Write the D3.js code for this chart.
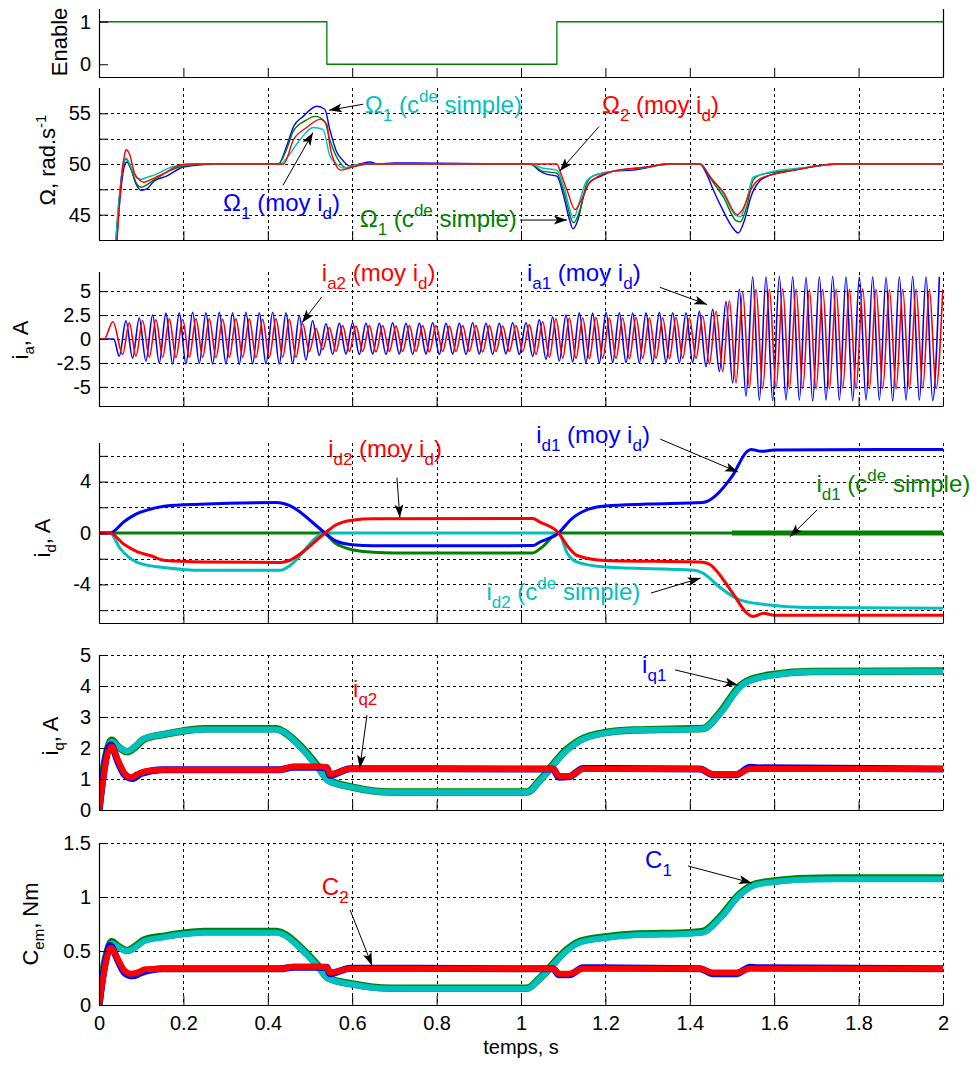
<!DOCTYPE html>
<html><head><meta charset="utf-8">
<script src="https://cdn.jsdelivr.net/npm/d3@7"></script>
<style>
body{margin:0;background:#fff}
svg{display:block}
text{font-family:"Liberation Sans",Arial,Helvetica,sans-serif}
</style>
</head><body>
<svg id="c" width="979" height="1065"></svg>
<script>
// ================= DATA =================
const xTicks = [0,0.2,0.4,0.6,0.8,1,1.2,1.4,1.6,1.8,2];
const xTickLabels = ['0','0.2','0.4','0.6','0.8','1','1.2','1.4','1.6','1.8','2'];

const enableTicks = [0,1], enableTickLabels = ['0','1'];
const omegaTicks = [45,47.5,50,52.5,55], omegaTickLabels = ['45','','50','','55'];
const iaTicks = [-5,-2.5,0,2.5,5], iaTickLabels = ['-5','-2.5','0','2.5','5'];
const idTicks = [-6,-4,-2,0,2,4,6], idTickLabels = ['','-4','','0','','4',''];
const iqTicks = [0,1,2,3,4,5], iqTickLabels = ['0','1','2','3','4','5'];
const cemTicks = [0,0.5,1,1.5], cemTickLabels = ['0','0.5','1','1.5'];

// Enable (step)
const enableT = [0,0.54,1.085,2];
const enableV = [1,0,1,1];

// Speed Omega [t, rad/s]
const omega1Moy = [[0,0],[0.02,22],[0.042,42.5],[0.052,47.5],[0.06,49.8],[0.066,50.2],[0.075,49.6],[0.088,48.0],[0.1,47.4],[0.115,47.6],[0.13,48.3],[0.16,48.8],[0.2,49.7],[0.25,49.95],[0.3,50],[0.425,50],[0.445,51.8],[0.461,53.7],[0.484,54.7],[0.516,55.7],[0.535,55.4],[0.547,53.4],[0.563,51.2],[0.579,50.3],[0.594,49.8],[0.618,50.0],[0.642,50.2],[0.66,50.0],[0.7,50.1],[1.022,50],[1.045,49.3],[1.06,49.0],[1.085,48.8],[1.1,47.0],[1.115,44.5],[1.123,43.6],[1.135,44.5],[1.148,46.8],[1.165,48.3],[1.19,48.8],[1.22,49.3],[1.266,49.4],[1.305,49.7],[1.34,50],[1.424,50],[1.44,49.0],[1.455,47.5],[1.48,45.3],[1.5,43.8],[1.515,43.2],[1.53,44.5],[1.545,46.8],[1.565,48.3],[1.59,48.9],[1.62,49.2],[1.66,49.5],[1.7,49.8],[1.75,50],[2,50]];
const omega1Simple = [[0,0],[0.02,24],[0.04,42.5],[0.05,47.5],[0.058,50.0],[0.064,50.5],[0.075,49.6],[0.09,48.0],[0.1,47.7],[0.115,48.0],[0.137,48.6],[0.165,49.3],[0.2,49.8],[0.25,50],[0.425,50],[0.445,51.5],[0.461,53.3],[0.49,54.3],[0.512,54.7],[0.535,54.2],[0.547,52.4],[0.57,50.2],[0.586,49.6],[0.61,49.8],[0.64,50],[1.022,50],[1.05,49.3],[1.085,49.1],[1.1,47.5],[1.125,44.2],[1.14,45.5],[1.155,48.0],[1.17,48.8],[1.22,49.3],[1.3,49.7],[1.35,50],[1.424,50],[1.45,48.5],[1.48,46.7],[1.51,44.4],[1.52,44.3],[1.535,45.8],[1.55,48.4],[1.565,48.9],[1.6,49.2],[1.66,49.5],[1.7,49.8],[1.75,50],[2,50]];
const omega2Simple = [[0,0],[0.02,24],[0.04,42.5],[0.05,47.5],[0.058,50.2],[0.064,50.6],[0.075,49.8],[0.09,48.6],[0.1,48.5],[0.115,48.7],[0.137,49.0],[0.165,49.6],[0.2,49.9],[0.25,50],[0.43,50],[0.445,50.6],[0.476,52.4],[0.508,53.6],[0.531,53.4],[0.547,50.8],[0.563,50.0],[0.579,49.6],[0.61,49.9],[0.64,50],[1.022,50],[1.05,49.6],[1.085,49.4],[1.1,48.0],[1.125,44.7],[1.14,46.5],[1.155,48.3],[1.175,48.9],[1.22,49.3],[1.3,49.7],[1.35,50],[1.424,50],[1.45,48.7],[1.48,47.0],[1.51,44.9],[1.52,44.8],[1.535,46.5],[1.55,48.7],[1.565,48.9],[1.6,49.3],[1.66,49.6],[1.7,49.8],[1.75,50],[2,50]];
const omega2Moy = [[0,0],[0.02,23],[0.043,42.5],[0.053,48.5],[0.06,50.8],[0.064,51.4],[0.072,51.0],[0.085,49.0],[0.1,48.3],[0.104,48.2],[0.12,48.4],[0.14,48.8],[0.16,49.2],[0.18,49.7],[0.21,50],[0.437,50],[0.461,52.4],[0.492,53.6],[0.524,54.4],[0.54,53.9],[0.547,51.8],[0.56,50.0],[0.573,49.4],[0.6,49.7],[0.63,50],[1.085,50],[1.095,49.0],[1.11,47.3],[1.128,45.5],[1.14,46.2],[1.16,48.0],[1.18,48.7],[1.22,49.3],[1.3,49.7],[1.35,50],[1.424,50],[1.45,48.6],[1.48,47.2],[1.512,45.0],[1.525,45.5],[1.545,47.5],[1.565,48.5],[1.6,49.0],[1.65,49.4],[1.7,49.8],[1.75,50],[2,50]];

// Phase current i_a: successive extremes (A), spaced by one half period
const iaHalfPeriod = 0.0158;
const iaBlueStart = 0.048, iaRedStart = 0.056;
const iaBlueLead = [[0,0],[0.035,0]];
const iaRedLead = [[0,0],[0.012,0],[0.033,1.8]];
const iaBlueExt = [-1.8,1.9,-2.0,2.2,-2.3,2.5,-2.5,2.7,-2.6,2.75,
 -2.6,2.8,-2.55,2.75,-2.6,2.8,-2.6,2.75,-2.65,2.8,-2.6,2.75,-2.6,2.8,-2.6,2.75,-2.55,
 2.4,-2.2,1.9,-1.7,1.6,
 -1.6,1.65,-1.55,1.7,-1.6,1.65,-1.55,1.65,-1.6,1.7,-1.55,1.65,-1.6,1.65,-1.55,1.7,-1.6,1.65,-1.55,1.65,-1.6,1.7,-1.55,1.65,-1.6,1.65,-1.55,1.7,-1.6,
 1.7,-1.8,2.0,-2.1,2.3,-2.3,2.5,-2.4,
 2.75,-2.45,2.7,-2.5,2.8,-2.45,2.75,-2.45,2.7,-2.5,2.75,-2.45,2.8,-2.45,2.75,-2.5,2.75,-2.45,
 2.9,-2.9,3.1,-3.4,3.9,-4.6,5.2,-6.0,6.5,
 -6.4,6.5,-6.45,6.55,-6.4,6.5,-6.4,6.45,-6.5,6.5,-6.4,6.55,-6.4,6.5,-6.45,6.5,-6.4,6.5,-6.4,6.45,-6.5,6.5,-6.4,6.55,-6.4,6.5,-6.45,6.5];
const iaRedExt = [-1.6,1.7,-1.8,1.9,-1.9,2.0,
 -1.9,2.1,-1.95,2.05,-1.9,2.1,-1.9,2.1,-1.95,2.05,-1.9,2.1,-1.9,2.1,-1.95,2.05,-1.9,2.1,-1.9,2.05,-1.9,
 1.6,-1.3,1.1,-1.1,1.2,
 -1.3,1.4,-1.3,1.35,-1.3,1.4,-1.35,1.4,-1.3,1.35,-1.3,1.4,-1.3,1.4,-1.35,1.4,-1.3,1.35,-1.3,1.4,-1.3,1.4,-1.35,1.4,-1.3,1.35,-1.3,1.4,-1.3,
 1.5,-1.6,1.8,-1.9,2.1,-2.0,2.2,
 -2.0,2.2,-2.05,2.25,-2.0,2.2,-2.0,2.2,-2.05,2.25,-2.0,2.2,-2.0,2.2,-2.05,2.25,-2.0,2.2,-2.0,
 2.4,-2.6,2.9,-3.4,4.0,-4.6,4.9,-5.1,5.2,
 -5.2,5.2,-5.15,5.25,-5.2,5.2,-5.2,5.15,-5.25,5.2,-5.2,5.2,-5.15,5.2,-5.2,5.25,-5.2,5.2,-5.2,5.15,-5.25,5.2,-5.2,5.2,-5.15,5.2,-5.2,5.2];

// i_d [t, A]
const id1Moy = [[0,0],[0.026,0],[0.06,0.9],[0.09,1.5],[0.121,1.85],[0.158,2.1],[0.24,2.24],[0.42,2.37],[0.437,2.3],[0.536,0],[0.56,-0.6],[0.6,-0.92],[0.65,-1.0],[1.028,-0.98],[1.045,-0.7],[1.089,0],[1.12,1.1],[1.16,1.85],[1.2,2.1],[1.3,2.25],[1.43,2.37],[1.44,2.45],[1.5,4.4],[1.536,6.35],[1.545,6.5],[1.57,6.35],[1.6,6.45],[2,6.5]];
const id2Moy = [[0,0],[0.026,0],[0.06,-0.9],[0.09,-1.45],[0.121,-1.75],[0.158,-2.14],[0.25,-2.25],[0.43,-2.3],[0.445,-2.2],[0.536,0],[0.56,0.6],[0.6,1.0],[0.65,1.1],[1.028,1.13],[1.045,0.85],[1.089,0],[1.11,-1.0],[1.133,-1.75],[1.2,-2.14],[1.43,-2.27],[1.445,-2.4],[1.5,-4.6],[1.536,-6.25],[1.55,-6.5],[1.575,-6.25],[1.6,-6.4],[2,-6.4]];
const id2Simple = [[0,0],[0.026,0],[0.05,-1.2],[0.089,-2.27],[0.113,-2.5],[0.158,-2.7],[0.24,-2.9],[0.43,-2.9],[0.445,-2.7],[0.537,0],[1.089,0],[1.11,-1.6],[1.133,-2.27],[1.2,-2.65],[1.41,-2.9],[1.43,-3.1],[1.474,-4.3],[1.518,-5.2],[1.588,-5.6],[1.676,-5.8],[2,-5.85]];
const id1Simple = [[0,0],[0.53,0],[0.56,-0.8],[0.6,-1.3],[0.65,-1.5],[0.7,-1.55],[1.028,-1.55],[1.05,-1.1],[1.089,0],[2,0]];
const id1SimpleRipple = [[1.5,0],[2,0]];

// i_q [t, A]
const iq1Simple = [[0,0],[0.01,1.25],[0.02,1.95],[0.03,2.25],[0.045,2.05],[0.067,1.88],[0.085,2.02],[0.106,2.28],[0.158,2.45],[0.2,2.55],[0.25,2.62],[0.42,2.62],[0.44,2.5],[0.476,2.08],[0.52,1.38],[0.543,0.97],[0.6,0.74],[0.69,0.58],[1.014,0.58],[1.045,0.97],[1.108,1.95],[1.14,2.26],[1.2,2.5],[1.266,2.58],[1.4,2.62],[1.431,2.63],[1.471,3.13],[1.519,4.0],[1.535,4.15],[1.598,4.37],[1.69,4.47],[2,4.48]];
const iq1Moy = [[0,0],[0.01,1.2],[0.02,1.9],[0.03,2.2],[0.045,2.05],[0.067,1.9],[0.085,2.05],[0.106,2.3],[0.158,2.45],[0.2,2.55],[0.25,2.6],[0.42,2.6],[0.44,2.5],[0.476,2.05],[0.52,1.35],[0.543,0.95],[0.6,0.73],[0.69,0.57],[1.014,0.57],[1.045,0.95],[1.108,1.92],[1.14,2.24],[1.2,2.48],[1.266,2.57],[1.4,2.6],[1.431,2.62],[1.471,3.1],[1.519,3.97],[1.535,4.13],[1.598,4.35],[1.69,4.46],[2,4.47]];
const iq2Simple = [[0,0],[0.01,1.1],[0.02,1.9],[0.028,2.1],[0.045,1.55],[0.06,1.15],[0.08,1.02],[0.1,1.18],[0.15,1.3],[0.43,1.3],[0.46,1.38],[0.52,1.38],[0.54,1.36],[0.547,1.12],[0.595,1.33],[1.076,1.32],[1.09,1.06],[1.115,1.08],[1.147,1.34],[1.424,1.32],[1.455,1.14],[1.51,1.14],[1.543,1.38],[1.56,1.36],[2,1.32]];
const iq2Moy = [[0,0],[0.01,1.0],[0.02,1.8],[0.03,2.05],[0.045,1.6],[0.06,1.2],[0.075,1.05],[0.09,1.15],[0.11,1.25],[0.15,1.3],[0.43,1.3],[0.46,1.4],[0.52,1.4],[0.54,1.38],[0.547,1.16],[0.595,1.32],[1.076,1.32],[1.09,1.1],[1.115,1.1],[1.147,1.32],[1.424,1.32],[1.455,1.16],[1.51,1.16],[1.543,1.32],[2,1.32]];

// C_em [t, Nm]
const cem1Simple = [[0,0],[0.01,0.32],[0.02,0.5],[0.03,0.585],[0.045,0.545],[0.067,0.505],[0.085,0.54],[0.106,0.6],[0.158,0.64],[0.2,0.665],[0.25,0.68],[0.42,0.68],[0.44,0.655],[0.476,0.54],[0.52,0.36],[0.543,0.25],[0.6,0.195],[0.69,0.155],[1.014,0.155],[1.045,0.25],[1.108,0.51],[1.14,0.59],[1.2,0.63],[1.266,0.655],[1.4,0.67],[1.431,0.68],[1.471,0.81],[1.519,1.03],[1.555,1.12],[1.605,1.15],[1.66,1.17],[1.75,1.175],[2,1.175]];
const cem1Moy = [[0,0],[0.01,0.31],[0.02,0.49],[0.03,0.57],[0.045,0.535],[0.067,0.5],[0.085,0.53],[0.106,0.59],[0.158,0.63],[0.2,0.655],[0.25,0.67],[0.42,0.67],[0.44,0.645],[0.476,0.53],[0.52,0.35],[0.543,0.245],[0.6,0.19],[0.69,0.15],[1.014,0.15],[1.045,0.245],[1.108,0.5],[1.14,0.58],[1.2,0.62],[1.266,0.645],[1.4,0.66],[1.431,0.67],[1.471,0.8],[1.519,1.02],[1.555,1.11],[1.605,1.14],[1.66,1.16],[1.75,1.165],[2,1.165]];
const cem2Simple = [[0,0],[0.01,0.28],[0.02,0.48],[0.026,0.55],[0.045,0.41],[0.06,0.3],[0.08,0.27],[0.1,0.3],[0.15,0.335],[0.43,0.335],[0.46,0.35],[0.52,0.35],[0.54,0.35],[0.547,0.29],[0.595,0.34],[1.076,0.335],[1.09,0.28],[1.115,0.28],[1.147,0.345],[1.424,0.335],[1.455,0.29],[1.51,0.29],[1.543,0.35],[1.56,0.345],[2,0.335]];
const cem2Moy = [[0,0],[0.01,0.26],[0.02,0.46],[0.028,0.53],[0.045,0.42],[0.06,0.32],[0.075,0.29],[0.09,0.3],[0.11,0.33],[0.15,0.335],[0.43,0.335],[0.46,0.355],[0.52,0.355],[0.54,0.35],[0.547,0.3],[0.595,0.335],[1.076,0.335],[1.09,0.29],[1.115,0.29],[1.147,0.335],[1.424,0.335],[1.455,0.3],[1.51,0.3],[1.543,0.335],[2,0.335]];

// ================= STYLE / LAYOUT =================
const COL = {blue:'#0000ff', red:'#ff0000', green:'#008000', cyan:'#00bfbf'};
const X0 = 99, X1 = 943;
const FS_TICK = 20, FS_LAB = 22, FS_ANN = 24, FS_SUB = 17;

const panels = [
  {id:'en',  top:9,   bottom:77,   domain:[-0.3,1.3], ticks:enableTicks, labels:enableTickLabels, grid:false, rightLine:true,
   ylabel:{x:67,y:42,parts:[['Enable','']]}},
  {id:'om',  top:88,  bottom:240,  domain:[42.5,57.5], ticks:omegaTicks, labels:omegaTickLabels, grid:true,
   ylabel:{x:55,y:160,parts:[['\u03A9, rad.s',''],['-1','sup']]}},
  {id:'ia',  top:272, bottom:406,  domain:[-7,7], ticks:iaTicks, labels:iaTickLabels, grid:true,
   ylabel:{x:28,y:340,parts:[['i',''],['a','sub'],[', A','']]}},
  {id:'id',  top:443, bottom:623,  domain:[-7,7], ticks:idTicks, labels:idTickLabels, grid:true,
   ylabel:{x:50,y:538,parts:[['i',''],['d','sub'],[', A','']]}},
  {id:'iq',  top:655, bottom:810,  domain:[0,5], ticks:iqTicks, labels:iqTickLabels, grid:true,
   ylabel:{x:58,y:736,parts:[['i',''],['q','sub'],[', A','']]}},
  {id:'cem', top:843, bottom:1005, domain:[0,1.5], ticks:cemTicks, labels:cemTickLabels, grid:true, xlabels:true,
   ylabel:{x:38,y:924,parts:[['C',''],['em','sub'],[', Nm','']]}}
];

const annotations = [
  {p:'om', c:'cyan', at:[0.630,55.0], parts:[['\u03A9',''],['1','sub'],[' (c',''],['de','sup'],[' simple)','']], arrow:[[0.626,55.9],[0.545,55.3]]},
  {p:'om', c:'red', at:[1.192,55.0], parts:[['\u03A9',''],['2','sub'],[' (moy i',''],['d','sub'],[')','']], arrow:[[1.185,53.7],[1.092,49.3]]},
  {p:'om', c:'blue', at:[0.294,45.4], parts:[['\u03A9',''],['1','sub'],[' (moy i',''],['d','sub'],[')','']], arrow:[[0.436,47.9],[0.507,53.1]]},
  {p:'om', c:'green', at:[0.618,43.8], parts:[['\u03A9',''],['1','sub'],[' (c',''],['de','sup'],[' simple)','']], arrow:[[0.998,44.47],[1.109,44.47]]},
  {p:'ia', c:'red', at:[0.528,6.1], parts:[['i',''],['a2','sub'],[' (moy i',''],['d','sub'],[')','']], arrow:[[0.528,4.4],[0.481,1.7]]},
  {p:'ia', c:'blue', at:[1.014,6.1], parts:[['i',''],['a1','sub'],[' (moy i',''],['d','sub'],[')','']], arrow:[[1.329,5.4],[1.441,3.6]]},
  {p:'id', c:'red', at:[0.543,5.9], parts:[['i',''],['d2','sub'],[' (moy i',''],['d','sub'],[')','']], arrow:[[0.706,4.3],[0.713,1.2]]},
  {p:'id', c:'blue', at:[1.036,7.0], parts:[['i',''],['d1','sub'],[' (moy i',''],['d','sub'],[')','']], arrow:[[1.330,7.3],[1.514,4.74]]},
  {p:'id', c:'green', at:[1.70,3.2], parts:[['i',''],['d1','sub'],[' (c',''],['de','sup'],[' simple)','']], arrow:[[1.702,1.8],[1.637,-0.3]]},
  {p:'id', c:'cyan', at:[0.918,-5.2], parts:[['i',''],['d2','sub'],[' (c',''],['de','sup'],[' simple)','']], arrow:[[1.308,-4.67],[1.426,-3.5]]},
  {p:'iq', c:'red', at:[0.602,3.65], parts:[['i',''],['q2','sub']], arrow:[[0.635,3.06],[0.618,1.35]]},
  {p:'iq', c:'blue', at:[1.287,4.42], parts:[['i',''],['q1','sub']], arrow:[[1.365,4.52],[1.514,4.03]]},
  {p:'cem', c:'blue', at:[1.294,1.27], parts:[['C',''],['1','sub']], arrow:[[1.396,1.287],[1.547,1.13]]},
  {p:'cem', c:'red', at:[0.528,1.02], parts:[['C',''],['2','sub']], arrow:[[0.595,0.88],[0.647,0.365]]}
];

// ================= DRAW =================
const svg = d3.select('#c');
const defs = svg.append('defs');
defs.append('marker').attr('id','arr').attr('markerUnits','userSpaceOnUse')
  .attr('markerWidth',14).attr('markerHeight',10).attr('refX',13).attr('refY',4.5).attr('orient','auto')
  .append('path').attr('d','M0,0 L13,4.5 L0,9 L3,4.5 z').attr('fill','#000');

const x = d3.scaleLinear().domain([0,2]).range([X0,X1]);
const P = {};

function rich(sel, parts, fs, sfs, subDy, supDy) {
  let off = 0;
  parts.forEach(([s,k]) => {
    const t = k==='sub' ? subDy : k==='sup' ? supDy : 0;
    sel.append('tspan').attr('dy', t-off).attr('font-size', k ? sfs : fs).text(s);
    off = t;
  });
}

panels.forEach(p => {
  p.y = d3.scaleLinear().domain(p.domain).range([p.bottom, p.top]);
  const g = svg.append('g');
  p.g = g;
  P[p.id] = p;
  defs.append('clipPath').attr('id','clip-'+p.id).append('rect')
    .attr('x',X0).attr('y',p.top).attr('width',X1-X0).attr('height',p.bottom-p.top);

  if (p.grid) {
    const gg = g.append('g').attr('stroke','#000').attr('stroke-width',1).attr('stroke-dasharray','3,3').attr('shape-rendering','crispEdges');
    xTicks.filter(t => t>0).forEach(t => {
      gg.append('line').attr('x1',Math.round(x(t))+0.5).attr('x2',Math.round(x(t))+0.5).attr('y1',p.top).attr('y2',p.bottom);
    });
    p.ticks.filter(v => v>p.domain[0]).forEach(v => {
      gg.append('line').attr('x1',X0).attr('x2',X1).attr('y1',Math.round(p.y(v))+0.5).attr('y2',Math.round(p.y(v))+0.5);
    });
  }
  p.lines = g.append('g').attr('clip-path','url(#clip-'+p.id+')');

  // axes
  const ax = g.append('g');
  const bottomAxis = d3.axisBottom(x).tickValues(xTicks).tickSizeInner(-9).tickSizeOuter(0).tickPadding(11)
     .tickFormat((d,i) => p.xlabels ? xTickLabels[i] : '');
  const ab = ax.append('g').attr('transform',`translate(0,${p.bottom})`).call(bottomAxis);
  ab.select('.domain').remove();
  ab.selectAll('text').attr('font-size',FS_TICK).attr('fill','#000').attr('font-family','"Liberation Sans",Arial,sans-serif');
  const leftAxis = d3.axisLeft(p.y).tickValues(p.ticks).tickSizeInner(-9).tickSizeOuter(0).tickPadding(8)
     .tickFormat((d,i) => p.labels[i]);
  const al = ax.append('g').attr('transform',`translate(${X0},0)`).call(leftAxis);
  al.select('.domain').remove();
  al.selectAll('text').attr('font-size',FS_TICK).attr('fill','#000').attr('font-family','"Liberation Sans",Arial,sans-serif');
  ax.selectAll('.tick line').attr('stroke','#000');
  // spines
  ax.append('line').attr('x1',X0+0.5).attr('x2',X0+0.5).attr('y1',p.top).attr('y2',p.bottom+0.5).attr('stroke','#000').attr('stroke-width',1.2);
  ax.append('line').attr('x1',X0).attr('x2',X1+0.5).attr('y1',p.bottom+0.5).attr('y2',p.bottom+0.5).attr('stroke','#000').attr('stroke-width',1.2);
  if (p.rightLine) ax.append('line').attr('x1',X1+0.5).attr('x2',X1+0.5).attr('y1',p.top).attr('y2',p.bottom+0.5).attr('stroke','#000').attr('stroke-width',1.2);

  // y label
  const yl = svg.append('text').attr('transform',`translate(${p.ylabel.x},${p.ylabel.y}) rotate(-90)`)
     .attr('text-anchor','middle').attr('fill','#000');
  rich(yl, p.ylabel.parts, FS_LAB, 15, 6, -9);
});

function draw(pid, pts, color, width, curve) {
  const p = P[pid];
  const line = d3.line().x(d => x(d[0])).y(d => p.y(d[1])).curve(curve || d3.curveMonotoneX);
  p.lines.append('path').attr('d', line(pts)).attr('fill','none').attr('stroke',color)
    .attr('stroke-width',width).attr('stroke-linejoin','round').attr('stroke-linecap','butt');
}

// Enable
draw('en', enableT.map((t,i)=>[t,enableV[i]]), COL.green, 1.3, d3.curveStepAfter);

// Omega
draw('om', omega1Moy, COL.blue, 1.4);
draw('om', omega1Simple, COL.green, 1.4);
draw('om', omega2Simple, COL.cyan, 1.4);
draw('om', omega2Moy, COL.red, 1.4);

// i_a
const iaBlue = iaBlueLead.concat(iaBlueExt.map((v,k)=>[iaBlueStart + k*iaHalfPeriod, v]));
const iaRed = iaRedLead.concat(iaRedExt.map((v,k)=>[iaRedStart + k*iaHalfPeriod, v]));
draw('ia', iaBlue, COL.blue, 1.6);
draw('ia', iaRed, COL.red, 1.6);

// i_d
draw('id', id1Simple, COL.green, 3);
draw('id', id1SimpleRipple, COL.green, 5, d3.curveLinear);
draw('id', id2Simple, COL.cyan, 3);
draw('id', id1Moy, COL.blue, 3);
draw('id', id2Moy, COL.red, 3);

// i_q
draw('iq', iq1Simple, COL.green, 7.5);
draw('iq', iq1Moy, COL.cyan, 6);
draw('iq', iq2Simple, COL.blue, 7);
draw('iq', iq2Moy, COL.red, 6);

// C_em
draw('cem', cem1Simple, COL.green, 7.5);
draw('cem', cem1Moy, COL.cyan, 6);
draw('cem', cem2Simple, COL.blue, 7);
draw('cem', cem2Moy, COL.red, 6);

// x label
svg.append('text').attr('x',521).attr('y',1054).attr('text-anchor','middle').attr('font-size',FS_TICK).attr('fill','#000').text('temps, s');

// annotations
annotations.forEach(a => {
  const p = P[a.p];
  const [t1,v1] = a.arrow[0], [t2,v2] = a.arrow[1];
  svg.append('line').attr('x1',x(t1)).attr('y1',p.y(v1)).attr('x2',x(t2)).attr('y2',p.y(v2))
    .attr('stroke','#000').attr('stroke-width',1).attr('marker-end','url(#arr)');
  const tx = svg.append('text').attr('x',x(a.at[0])).attr('y',p.y(a.at[1])).attr('fill',COL[a.c]);
  rich(tx, a.parts, FS_ANN, FS_SUB, 8, -11);
});
</script>
</body></html>
